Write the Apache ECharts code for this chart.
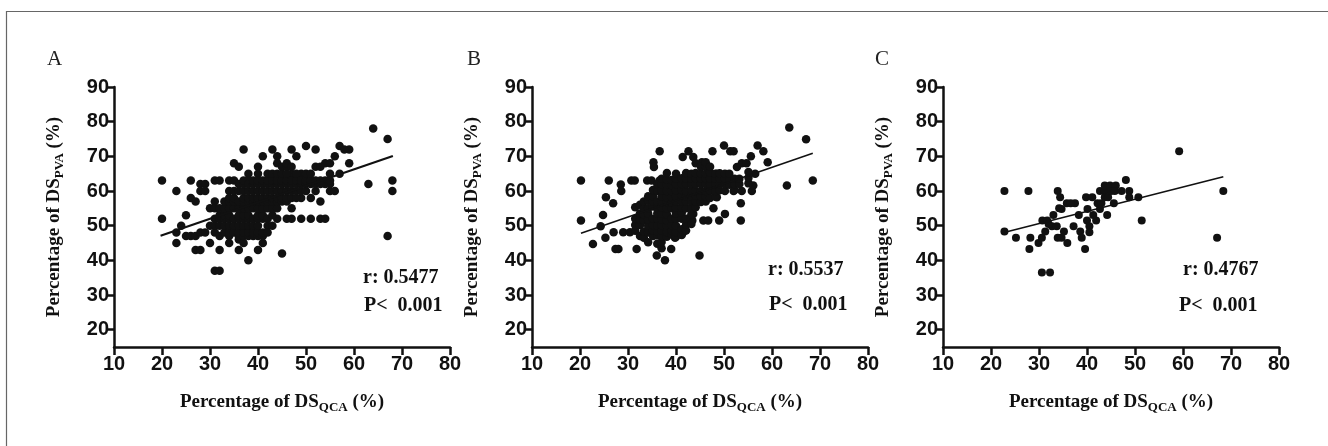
<!DOCTYPE html>
<html><head><meta charset="utf-8">
<script src="https://cdn.jsdelivr.net/npm/echarts@6/dist/echarts.min.js"></script>
<style>html,body{margin:0;padding:0;background:#fff}#c{width:1328px;height:446px}</style>
</head><body><div id="c"></div>
<script>
// ---------- data ----------
const xTicks = [10,20,30,40,50,60,70,80];
const yTicks = [20,30,40,50,60,70,80,90];
const panelLabels = ['A','B','C'];
const rTexts = ['r: 0.5477','r: 0.5537','r: 0.4767'];
const pTexts = ['P<  0.001','P<  0.001','P<  0.001'];

const pointsA = [
[64,78],[67,75],[63,62],[68,63],[68,60],[67,47],[59,68],[57,73],[59,72],[58,72],[56,70],[54,68],[55,68],[50,73],[52,72],[47,72],[48,70],[43,72],[44,70],[41,70],[37,72],[35,68],[36,67],[45,42],[38,40],[31,37],[32,37],[32,43],[27,43],[28,43],[30,45],[23,45],[20,52],[20,63],[23,60],[24,50],[23,48],[25,53],[25,47],[26,47],[27,47],[26,63],[26,58],[27,57],[28,62],[29,62],[28,60],[29,60],[28,48],[29,48],[30,55],[31,57],[31,63],[32,63],[30,50],[34,63],[35,63],[34,60],[34,45],[36,46],[37,45],[36,43],[38,65],[38,63],[40,67],[40,65],[40,43],[41,45],[42,50],[41,52],[44,52],[46,52],[47,52],[49,52],[51,52],[53,52],[54,52],[51,58],[53,57],[54,63],[54,62],[55,60],[56,60],[57,65],[52,67],[53,67],[47,65],[49,65],[49,58],[47,55],
[31,48],[31,50],[31,52],[31,55],[32,47],[32,50],[32,52],[32,53],[32,55],[33,48],[33,50],[33,52],[33,53],[33,55],[33,57],
[34,47],[34,48],[34,50],[34,52],[34,53],[34,55],[34,57],[34,58],[35,48],[35,50],[35,52],[35,55],[35,57],[35,58],[35,60],
[36,47],[36,48],[36,50],[36,52],[36,53],[36,55],[36,57],[36,60],[36,62],
[37,47],[37,48],[37,50],[37,52],[37,53],[37,55],[37,57],[37,58],[37,60],[37,62],[37,63],
[38,47],[38,48],[38,50],[38,52],[38,53],[38,55],[38,57],[38,58],[38,60],[38,62],
[39,47],[39,48],[39,50],[39,52],[39,55],[39,57],[39,58],[39,60],[39,62],[39,63],
[40,47],[40,48],[40,50],[40,52],[40,53],[40,55],[40,57],[40,58],[40,60],[40,62],[40,63],
[41,47],[41,48],[41,53],[41,55],[41,57],[41,58],[41,60],[41,62],[41,63],
[42,48],[42,52],[42,55],[42,57],[42,58],[42,60],[42,62],[42,63],[42,65],
[43,50],[43,53],[43,55],[43,57],[43,58],[43,60],[43,62],[43,63],[43,65],
[44,55],[44,57],[44,58],[44,60],[44,62],[44,63],[44,65],[44,68],
[45,57],[45,58],[45,60],[45,62],[45,63],[45,65],[45,67],
[46,57],[46,58],[46,60],[46,62],[46,63],[46,65],[46,67],[46,68],
[47,58],[47,60],[47,62],[47,63],[47,67],[48,58],[48,60],[48,62],[48,63],[48,65],
[49,60],[49,62],[49,63],[50,60],[50,62],[50,63],[50,65],[51,62],[51,63],[51,65],[52,60],[52,62],[52,63],[53,62],[53,63],[55,62],[55,63],[55,65]
];
const pointsB = [
[63.6,78.3],[67.1,74.9],[68.5,63],[63.1,61.6],[59.1,68.3],[58.2,71.5],[57,73.1],[55.6,70],[53.7,68],[54.7,68],[50,73.1],[51.3,71.5],[52,71.5],[47.6,71.5],[45.4,68.3],[42.6,71.5],[43.6,69.8],[41.4,69.8],[36.6,71.5],[35.3,68.3],[35.4,66.9],[44.9,41.4],[37.7,40],[36,41.4],
[20.2,63],[20.2,51.5],[22.7,44.7],[24.3,49.8],[24.8,53.1],[25.4,58.2],[25.3,46.5],[26,63],[26.9,56.5],[27.4,43.3],[28,43.3],[28.5,61.9],[28.6,60],[27,48.1],[29,48.1],[30.7,63],[31.4,63],[30.4,48.1],[31.8,43.3],[34,63],[34.9,63],[36.6,63],[39,43.3],[39.8,46.5],[41.2,48.1],[41.5,48.1],[43.4,51.5],[43.6,53.4],[45.7,51.5],[46.7,51.5],[49,51.5],[50.2,53.4],[53.5,51.5],[53.5,56.5],[52,60],[53.7,60],[55.8,60],[56.1,61.6],[56.5,65],[52.7,66.9],[48.5,65],[48.5,58.2],[47.8,55],
[31.5,48.5],[31.5,50.2],[31.5,52],[31.5,55.3],[32.5,47],[32.5,50.2],[32.5,51.8],[32.5,53.5],[32.5,56],
[33.3,46.5],[33.3,48.3],[33.3,51.5],[33.3,53.3],[33.3,55],[33.3,57],
[34.2,45.2],[34.2,48],[34.2,50],[34.2,51.8],[34.2,53.5],[34.2,55],[34.2,57.2],[34.2,58.5],
[35.2,47],[35.2,48.5],[35.2,50.2],[35.2,52],[35.2,55.5],[35.2,57],[35.2,58.5],[35.2,60.3],
[36.1,44.8],[36.1,47.2],[36.1,48.3],[36.1,50],[36.1,52],[36.1,53.5],[36.1,55],[36.1,57],[36.1,60],[36.1,62],
[37,43.5],[37,45.3],[37,47],[37,48.5],[37,50.2],[37,51.8],[37,53.5],[37,55.3],[37,57],[37,58.5],[37,60.2],[37,62],[37,63.5],
[38.1,46.8],[38.1,48.2],[38.1,50],[38.1,51.5],[38.1,53.3],[38.1,55],[38.1,56.8],[38.1,58.2],[38.1,60],[38.1,61.8],[38.1,63.3],[38.1,65.2],
[39.1,47.5],[39.1,48.5],[39.1,50.2],[39.1,52],[39.1,55],[39.1,56.6],[39.1,58.3],[39.1,60],[39.1,61.7],[39.1,63.2],
[40,46.8],[40,48.2],[40,50],[40,52],[40,53.5],[40,55.2],[40,57],[40,58.5],[40,60.2],[40,62],[40,63.5],[40,65],
[41.2,47.3],[41.2,49],[41.2,52],[41.2,53.7],[41.2,55.2],[41.2,57],[41.2,58.6],[41.2,60.3],[41.2,62],[41.2,63.7],
[42.1,48.6],[42.1,50.3],[42.1,52],[42.1,55],[42.1,57],[42.1,58.5],[42.1,60],[42.1,62],[42.1,63.5],[42.1,65.2],
[43.2,50.5],[43.2,53.3],[43.2,55],[43.2,57],[43.2,58.5],[43.2,60.2],[43.2,62],[43.2,63.5],[43.2,65],
[44.1,55.3],[44.1,57],[44.1,58.6],[44.1,60],[44.1,62],[44.1,63.7],[44.1,65.2],[44.1,68],
[45.2,56.8],[45.2,58.5],[45.2,60.1],[45.2,62],[45.2,63.5],[45.2,65],[45.2,67],
[46.2,57],[46.2,58.5],[46.2,60],[46.2,62],[46.2,63.6],[46.2,65],[46.2,67],[46.2,68.3],
[47.1,58],[47.1,60.2],[47.1,62],[47.1,63.5],[47.1,65.3],[47.1,67],
[48.2,58.4],[48.2,60],[48.2,62],[48.2,63.5],[48.2,65],
[49.1,60.2],[49.1,62],[49.1,63.5],[49.1,65.1],[50.2,60],[50.2,62],[50.2,63.5],[50.2,65],
[51.1,61.8],[51.1,63.5],[51.1,65],[52.2,60.3],[52.2,62],[52.2,63.5],[53.2,62],[53.2,63.5],[55.1,62.2],[55.1,63.8],[55.1,65.5]
];
const pointsC = [
[59.2,71.5],[68.4,60],[67.1,46.5],[22.8,60],[27.8,60],[22.8,48.3],[25.2,46.5],[28.2,46.5],[28,43.3],[29.9,45],[30.6,36.5],[32.3,36.5],[30.6,46.5],[31.3,48.3],[30.7,51.5],[31.7,51.5],[32.7,49.8],[33.7,49.8],[33,53.1],[33.9,60],[34.4,58.2],[34.7,54.8],[34.2,55],[33.9,46.5],[34.7,46.5],[35.2,48.3],[35.9,45],[35.8,56.5],[37.5,56.5],[37.2,49.8],[38.3,53.1],[38.6,48.3],[38.9,46.5],[39.6,43.3],[39.8,58.2],[41.1,58.2],[40.1,54.8],[40,51.5],[40.5,49.8],[40.5,48.1],[41.3,53.1],[41.9,51.5],[42.2,56.5],[42.7,54.8],[42.7,60],[43.7,60],[43,56.5],[43.7,58.2],[44.2,53.1],[43.7,61.6],[44.8,61.6],[46,61.6],[44.4,58.2],[45.6,56.5],[45,60],[45.8,60],[47.2,60],[48.1,63.2],[48.8,60],[48.8,58.2],[50.7,58.2],[51.4,51.5],[32,50.5],[36.6,56.5]
];
const fitA = [[19.7,47.1],[68.1,70.1]];
const fitB = [[20.2,47.8],[68.5,70.9]];
const fitC = [[22.9,48.1],[68.4,64.1]];

// ---------- layout ----------
const grids = [
  {left:114, top:87, width:336, height:260},
  {left:532, top:87, width:336, height:260},
  {left:943, top:87, width:336, height:260}
];
const INK = '#111';
const tickFont = {fontFamily:'Liberation Sans, Arial, sans-serif', fontWeight:'bold', fontSize:20, color:INK};
const nameFont = {fontFamily:'Liberation Serif, Times New Roman, serif', fontWeight:'bold', fontSize:19, color:INK,
  rich:{sub:{fontFamily:'Liberation Serif, Times New Roman, serif', fontWeight:'bold', fontSize:13, color:INK, padding:[10,0,0,0]}}};
const axisLineStyle = {color:INK, width:2.5};

const xAxes = grids.map((g,i)=>({
  gridIndex:i, type:'value', min:xTicks[0], max:xTicks[xTicks.length-1], interval:10,
  axisLine:{show:true, onZero:false, lineStyle:axisLineStyle},
  axisTick:{show:true, length:8, lineStyle:{color:INK,width:2.5}},
  axisLabel:Object.assign({margin:7, showMinLabel:true, showMaxLabel:true}, tickFont),
  splitLine:{show:false},
  name:'Percentage of DS{sub|QCA} (%)', nameLocation:'middle', nameGap:44, nameTextStyle:nameFont
}));
const yAxes = grids.map((g,i)=>({
  gridIndex:i, type:'value', min:15, max:yTicks[yTicks.length-1],
  axisLine:{show:true, onZero:false, lineStyle:axisLineStyle},
  axisTick:{show:true, length:8, customValues:yTicks, lineStyle:{color:INK,width:2.5}},
  axisLabel:Object.assign({margin:5, customValues:yTicks}, tickFont),
  splitLine:{show:false},
  name:'Percentage of DS{sub|PVA} (%)', nameLocation:'middle', nameGap:48, nameTextStyle:nameFont
}));

const pointSets = [pointsA, pointsB, pointsC];
const fits = [fitA, fitB, fitC];
const series = [];
pointSets.forEach((pts,i)=>{
  series.push({type:'scatter', xAxisIndex:i, yAxisIndex:i, data:pts, symbolSize:i===2?8:8.5,
    itemStyle:{color:INK, opacity:1}, silent:true, z:2});
});
fits.forEach((f,i)=>{
  series.push({type:'line', xAxisIndex:i, yAxisIndex:i, data:f, symbol:'none',
    lineStyle:{color:INK, width:i===0?2.2:1.6}, silent:true, z:3});
});

const letterX = [47, 467, 875];
const rPos = [[363,278],[768,270],[1183,270]];
const pPos = [[364,306],[769,305],[1179,306]];
const graphic = [
  {type:'rect', shape:{x:6.5, y:11.5, width:1400, height:500}, style:{fill:'none', stroke:'#666', lineWidth:1.2}, silent:true}
];
panelLabels.forEach((t,i)=>{
  graphic.push({type:'text', x:letterX[i], y:59, style:{text:t, font:'21px "Liberation Serif", serif', fill:'#222', textVerticalAlign:'middle'}});
  graphic.push({type:'text', x:rPos[i][0], y:rPos[i][1], style:{text:rTexts[i], font:'bold 20px "Liberation Serif", serif', fill:INK, textVerticalAlign:'middle'}});
  graphic.push({type:'text', x:pPos[i][0], y:pPos[i][1], style:{text:pTexts[i], font:'bold 20px "Liberation Serif", serif', fill:INK, textVerticalAlign:'middle'}});
});

const chart = echarts.init(document.getElementById('c'), null, {renderer:'canvas'});
chart.setOption({
  animation:false, backgroundColor:'#fff',
  grid:grids, xAxis:xAxes, yAxis:yAxes, series, graphic
});
</script></body></html>
